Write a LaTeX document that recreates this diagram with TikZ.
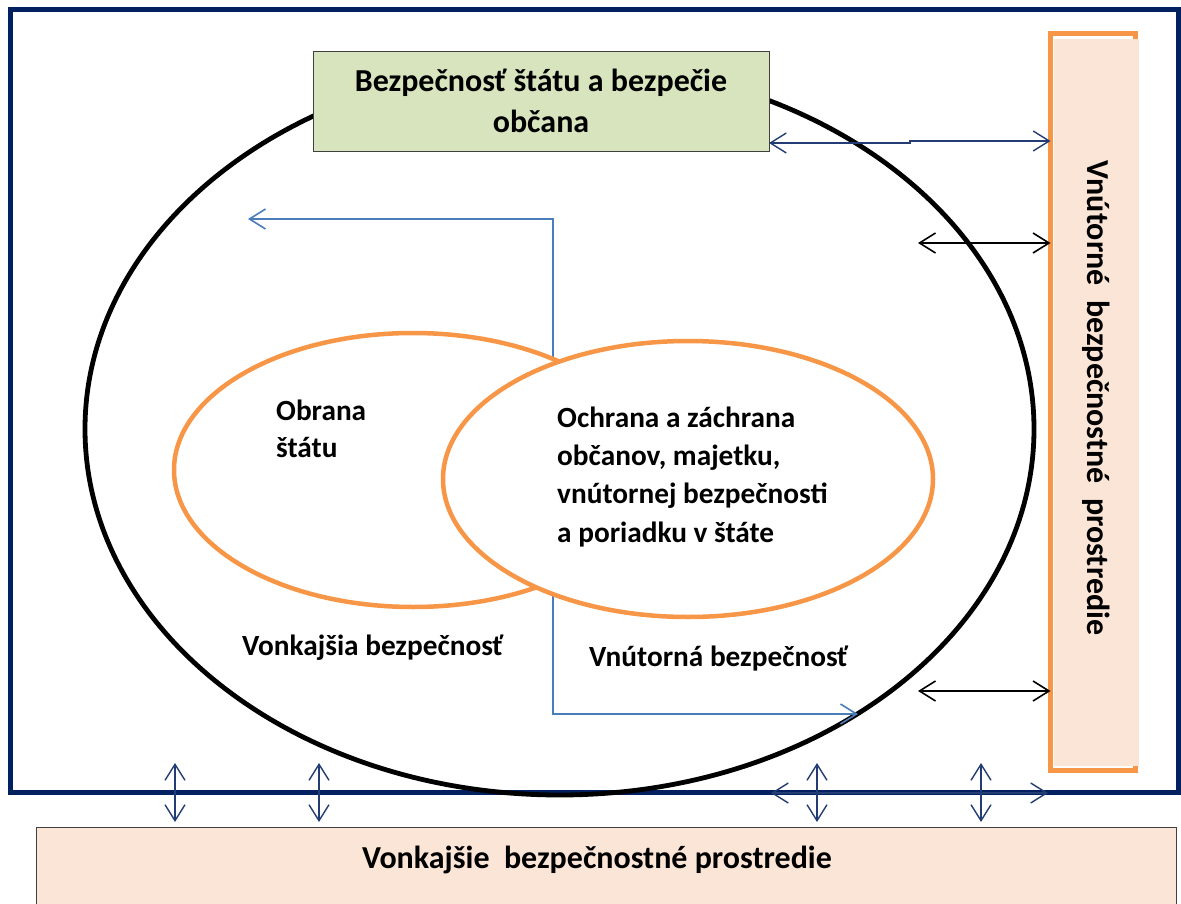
\documentclass[tikz,border=0pt]{standalone}
\usepackage{fontspec}
\setmainfont{Carlito}
\usetikzlibrary{arrows.meta,shapes.geometric}
\definecolor{framenavy}{RGB}{0,32,96}
\definecolor{orng}{RGB}{247,150,70}
\definecolor{peach}{RGB}{251,229,214}
\definecolor{grn}{RGB}{215,228,189}
\definecolor{bluel}{RGB}{74,126,187}
\definecolor{arrnavy}{RGB}{35,60,115}
\tikzset{
  barb/.tip={Straight Barb[length=16pt,width=20pt]},
  lbl/.style={inner sep=0pt, anchor=base west},
  lblc/.style={inner sep=0pt, anchor=base},
  bigtext/.style={font=\fontsize{32pt}{40pt}\selectfont\bfseries},
  blueconn/.style={draw=bluel, line width=1.6pt, -barb},
  navyconn/.style={draw=arrnavy, line width=1.4pt, barb-barb},
  blackconn/.style={draw=black, line width=1.6pt, barb-barb},
  oval/.style={ellipse, draw=orng, line width=4.5pt, fill=white, inner sep=0pt, outer sep=0pt},
}
\begin{document}
\begin{tikzpicture}[x=1pt,y=-1pt,font=\fontsize{29.3pt}{38.3pt}\selectfont\bfseries]
\useasboundingbox (0,0) rectangle (1181,904);
% outer frame
\draw[framenavy, line width=4.5pt] (10.5,9.5) rectangle (1178.7,792.5);
% big ellipse
\draw[black, line width=4.8pt] (559.5,429) ellipse [x radius=474.5pt, y radius=366pt];
% named points
\coordinate (vtop) at (553,219);
\coordinate (ltip) at (248,219);
\coordinate (vbot) at (553,714);
\coordinate (rtip) at (858,714);
% blue connectors (drawn under the orange ovals)
\node[oval, minimum width=478pt, minimum height=274pt, fill=none, draw=none] (defense) at (413,470) {};
\node[oval, minimum width=490pt, minimum height=276pt, fill=none, draw=none] (protect) at (688,479) {};
\draw[blueconn] (defense.center -| vtop) -- (vtop) -- (ltip);
\draw[blueconn] (protect.center -| vbot) -- (vbot) -- (rtip);
% orange ovals
\node[oval, minimum width=478pt, minimum height=274pt] (defenseO) at (413,470) {};
\node[oval, minimum width=490pt, minimum height=276pt] (protectO) at (688,479) {};
% green box
\node[draw=black!75, line width=1pt, fill=grn, minimum width=456pt, minimum height=100pt, inner sep=0pt, outer sep=0pt] (green) at (541,102) {};
\node[lblc, bigtext] (t1) at (541,92) {Bezpečnosť štátu a bezpečie};
\node[lblc, bigtext] (t2) at (541,133) {občana};
% right vertical box
\node[draw=orng, line width=5pt, fill=white, minimum width=85pt, minimum height=737pt, inner sep=0pt, outer sep=0pt] (vbox) at (1093,402) {};
\fill[peach] (1054,39.5) rectangle (1139,766);
\node[rotate=-90, inner sep=0pt, bigtext] (vtext) at (1096,398) {Vnútorné\ \ bezpečnostné\ \ prostredie};
% bottom box
\node[draw=black!75, line width=1pt, fill=peach, minimum width=1140pt, minimum height=90pt, inner sep=0pt, outer sep=0pt, anchor=north west] (ext) at (36,827) {};
\node[lblc, bigtext] (exttext) at (597,868) {Vonkajšie\ \ bezpečnostné prostredie};
% inner texts
\node[lbl] (o1) at (276,420) {Obrana};
\node[lbl] (o2) at (276,457) {štátu};
\node[lbl] (p1) at (557,427) {Ochrana a záchrana};
\node[lbl] (p2) at (557,465) {občanov, majetku,};
\node[lbl] (p3) at (557,503) {vnútornej bezpečnosti};
\node[lbl] (p4) at (557,542) {a poriadku v štáte};
\node[lbl] (vk) at (242,655) {Vonkajšia bezpečnosť};
\node[lbl] (vn) at (589,666) {Vnútorná bezpečnosť};
% navy connector green box -> vertical box
\coordinate (s1) at (910,143);
\coordinate (s2) at (910,141);
\draw[navyconn] ([yshift=9pt]green.south east) -- (s1) -- (s2) -- (vbox.west |- s2);
% black connectors
\coordinate (b1) at (918,243);
\coordinate (b2) at (918,691);
\draw[blackconn] (b1) -- (vbox.west |- b1);
\draw[blackconn] (b2) -- (vbox.west |- b2);
% vertical navy connectors to the outer environment
\foreach \n/\x in {a/175,b/319,c/817,d/981}{
  \coordinate (\n) at (\x,763);
  \draw[navyconn] (\n) -- ([yshift=5pt]ext.north -| \n);
}
% horizontal navy arrow on frame line
\coordinate (h1) at (771,793);
\coordinate (h2) at (1048,793);
\draw[navyconn] (h1) -- (h2);
\end{tikzpicture}
\end{document}
